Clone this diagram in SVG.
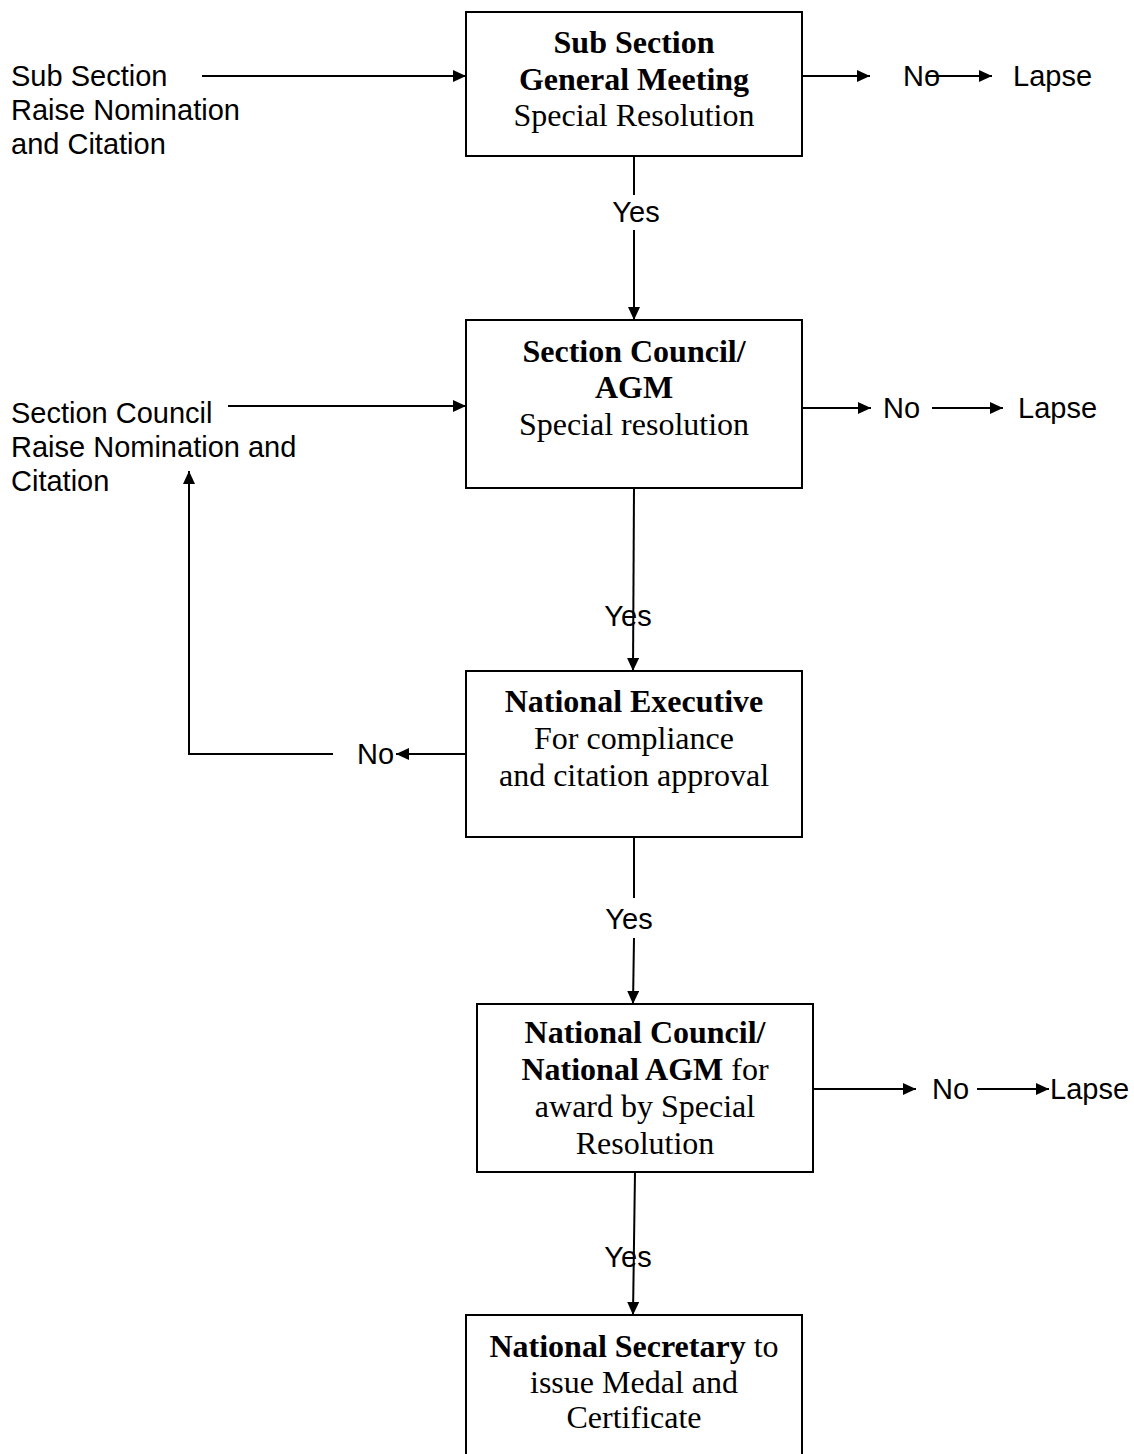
<svg xmlns="http://www.w3.org/2000/svg" width="1134" height="1454" viewBox="0 0 1134 1454">
<style>
.box{fill:#fff;stroke:#000;stroke-width:2}
.ln{fill:none;stroke:#000;stroke-width:2}
.t{font-family:"Liberation Serif","Times New Roman",serif;font-size:32px;text-anchor:middle;fill:#000}
.b{font-weight:bold}
.a{font-family:"Liberation Sans",Arial,sans-serif;font-size:29px;fill:#000}
</style>
<defs>
<marker id="ah2" viewBox="0 0 13 12" refX="13" refY="6" markerWidth="13" markerHeight="12" orient="auto" markerUnits="userSpaceOnUse">
<path d="M0,0 L13,6 L0,12 Z" fill="#000"/>
</marker>
</defs>

<g id="connectors">
<line class="ln" x1="202" y1="76" x2="466" y2="76" marker-end="url(#ah2)"/>
<line class="ln" x1="802" y1="76" x2="870" y2="76" marker-end="url(#ah2)"/>
<line class="ln" x1="928" y1="76" x2="992" y2="76" marker-end="url(#ah2)"/>
<line class="ln" x1="634" y1="156" x2="634" y2="195"/>
<line class="ln" x1="634" y1="230" x2="634" y2="320" marker-end="url(#ah2)"/>
<line class="ln" x1="228" y1="406" x2="466" y2="406" marker-end="url(#ah2)"/>
<line class="ln" x1="802" y1="408" x2="871" y2="408" marker-end="url(#ah2)"/>
<line class="ln" x1="932" y1="408" x2="1003" y2="408" marker-end="url(#ah2)"/>
<line class="ln" x1="634" y1="488" x2="633" y2="671" marker-end="url(#ah2)"/>
<line class="ln" x1="466" y1="754" x2="396" y2="754" marker-end="url(#ah2)"/>
<polyline class="ln" points="333,754 189,754 189,471" marker-end="url(#ah2)"/>
<line class="ln" x1="634" y1="837" x2="634" y2="898"/>
<line class="ln" x1="634" y1="938" x2="633" y2="1004" marker-end="url(#ah2)"/>
<line class="ln" x1="813" y1="1089" x2="916" y2="1089" marker-end="url(#ah2)"/>
<line class="ln" x1="977" y1="1089" x2="1049" y2="1089" marker-end="url(#ah2)"/>
<line class="ln" x1="635" y1="1172" x2="633" y2="1315" marker-end="url(#ah2)"/>
</g>

<g id="labels">
<text class="a" x="636" y="222" text-anchor="middle">Yes</text>
<text class="a" x="628" y="626" text-anchor="middle">Yes</text>
<text class="a" x="629" y="929" text-anchor="middle">Yes</text>
<text class="a" x="628" y="1267" text-anchor="middle">Yes</text>
<text class="a" x="903" y="86">No</text>
<text class="a" x="1013" y="86">Lapse</text>
<text class="a" x="883" y="418">No</text>
<text class="a" x="1018" y="418">Lapse</text>
<text class="a" x="357" y="764">No</text>
<text class="a" x="932" y="1099">No</text>
<text class="a" x="1050" y="1099">Lapse</text>
</g>

<g id="src1">
<text class="a" x="11" y="86">Sub Section</text>
<text class="a" x="11" y="120">Raise Nomination</text>
<text class="a" x="11" y="154">and Citation</text>
</g>
<g id="src2">
<text class="a" x="11" y="423">Section Council</text>
<text class="a" x="11" y="457">Raise Nomination and</text>
<text class="a" x="11" y="491">Citation</text>
</g>

<g id="n1">
<rect class="box" x="466" y="12" width="336" height="144"/>
<text class="t b" x="634" y="53">Sub Section</text>
<text class="t b" x="634" y="90">General Meeting</text>
<text class="t" x="634" y="126">Special Resolution</text>
</g>
<g id="n2">
<rect class="box" x="466" y="320" width="336" height="168"/>
<text class="t b" x="634" y="362">Section Council/</text>
<text class="t b" x="634" y="398">AGM</text>
<text class="t" x="634" y="435">Special resolution</text>
</g>
<g id="n3">
<rect class="box" x="466" y="671" width="336" height="166"/>
<text class="t b" x="634" y="712">National Executive</text>
<text class="t" x="634" y="749">For compliance</text>
<text class="t" x="634" y="786">and citation approval</text>
</g>
<g id="n4">
<rect class="box" x="477" y="1004" width="336" height="168"/>
<text class="t b" x="645" y="1043">National Council/</text>
<text class="t" x="645" y="1080"><tspan class="b">National AGM</tspan> for</text>
<text class="t" x="645" y="1117">award by Special</text>
<text class="t" x="645" y="1154">Resolution</text>
</g>
<g id="n5">
<rect class="box" x="466" y="1315" width="336" height="150"/>
<text class="t" x="634" y="1357"><tspan class="b">National Secretary</tspan> to</text>
<text class="t" x="634" y="1393">issue Medal and</text>
<text class="t" x="634" y="1428">Certificate</text>
</g>
</svg>
